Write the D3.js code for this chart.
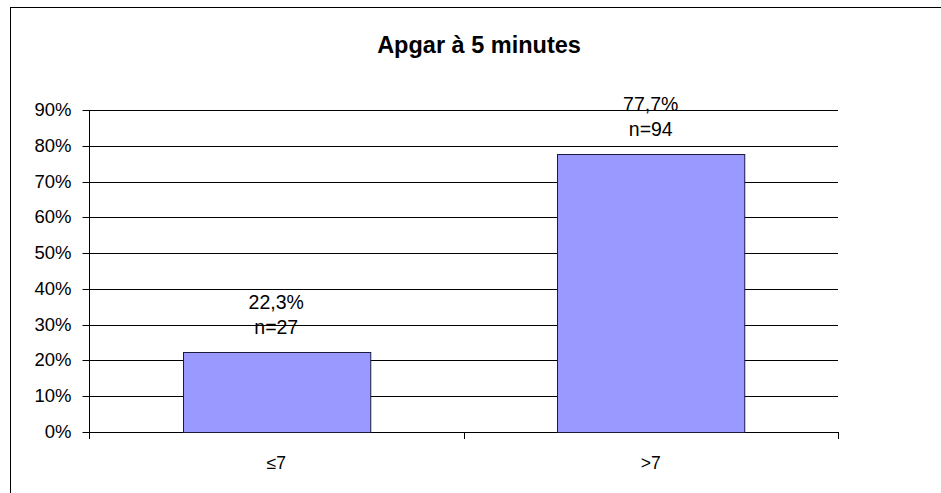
<!DOCTYPE html>
<html>
<head>
<meta charset="utf-8">
<script src="https://cdn.jsdelivr.net/npm/d3@7"></script>
<style>
  html, body { margin: 0; padding: 0; background: #fff; }
  svg { display: block; font-family: "Liberation Sans", Arial, sans-serif; }
</style>
</head>
<body>
<svg id="chart" width="941" height="493"></svg>
<script>
// Apgar score at 5 minutes: share of newborns per group
const categories = ["≤7", ">7"];
const percents = [22.3, 77.7];
const counts = [27, 94];
const yTicks = [0, 10, 20, 30, 40, 50, 60, 70, 80, 90];
const title = "Apgar à 5 minutes";

const svg = d3.select("#chart");
const W = 941, H = 493;

// outer frame (extends past the visible window on the right and bottom)
svg.append("rect")
  .attr("x", 10.5).attr("y", 7.5)
  .attr("width", W + 20).attr("height", H + 20)
  .attr("fill", "#fff").attr("stroke", "#000").attr("stroke-width", 1);

const plot = { left: 89, right: 838, top: 110, bottom: 432 };

const x = d3.scaleBand()
  .domain(categories)
  .range([plot.left, plot.right])
  .paddingInner(0.5).paddingOuter(0.25);

const y = d3.scaleLinear()
  .domain([0, 90])
  .range([plot.bottom, plot.top]);

// horizontal gridlines
svg.append("g")
  .selectAll("line")
  .data(yTicks)
  .join("line")
  .attr("x1", plot.left).attr("x2", plot.right)
  .attr("y1", d => Math.round(y(d)) + 0.5)
  .attr("y2", d => Math.round(y(d)) + 0.5)
  .attr("stroke", "#000").attr("stroke-width", 1);

// y axis
const yAxis = d3.axisLeft(y)
  .tickValues(yTicks)
  .tickFormat(d => d + "%")
  .tickSize(7)
  .tickPadding(11);
const gy = svg.append("g")
  .attr("transform", `translate(${plot.left + 0.5},0.5)`)
  .call(yAxis);
gy.select(".domain").attr("stroke", "#000").attr("d", `M0,${plot.top}V${plot.bottom}`);
gy.selectAll(".tick line").attr("stroke", "#000");
gy.selectAll(".tick text")
  .attr("font-size", 18.5).attr("fill", "#000")
  .attr("font-family", "Liberation Sans, Arial, sans-serif");
gy.selectAll(".tick").attr("transform", d => `translate(0,${Math.round(y(d))})`);

// x axis: ticks at category boundaries, labels centered under bars
const boundaries = [plot.left, (x(categories[0]) + x.bandwidth() + x(categories[1])) / 2, plot.right];
const gx = svg.append("g");
gx.append("line")
  .attr("x1", plot.left).attr("x2", plot.right)
  .attr("y1", plot.bottom + 0.5).attr("y2", plot.bottom + 0.5)
  .attr("stroke", "#000");
gx.selectAll("line.tk")
  .data(boundaries)
  .join("line")
  .attr("class", "tk")
  .attr("x1", d => Math.round(d) + 0.5).attr("x2", d => Math.round(d) + 0.5)
  .attr("y1", plot.bottom).attr("y2", plot.bottom + 7)
  .attr("stroke", "#000");
gx.selectAll("text")
  .data(categories)
  .join("text")
  .attr("x", d => x(d) + x.bandwidth() / 2)
  .attr("y", 469)
  .attr("text-anchor", "middle")
  .attr("font-size", 17.5)
  .attr("fill", "#000")
  .text(d => d);

// bars
const data = categories.map((c, i) => ({ c, p: percents[i], n: counts[i] }));
svg.append("g")
  .selectAll("rect")
  .data(data)
  .join("rect")
  .attr("x", d => Math.round(x(d.c)) + 0.5)
  .attr("y", d => Math.round(y(d.p)) + 0.5)
  .attr("width", x.bandwidth())
  .attr("height", d => Math.round(y(0)) - Math.round(y(d.p)))
  .attr("fill", "#9999FF")
  .attr("stroke", "#1a1a40")
  .attr("stroke-width", 1);

// value labels
const fmt = v => v.toFixed(1).replace(".", ",") + "%";
const lbl = svg.append("g").attr("font-size", 19.5).attr("fill", "#000").attr("text-anchor", "middle");
lbl.selectAll("text.pct")
  .data(data)
  .join("text")
  .attr("class", "pct")
  .attr("x", d => x(d.c) + x.bandwidth() / 2)
  .attr("y", d => y(d.p) - 43)
  .text(d => fmt(d.p));
lbl.selectAll("text.cnt")
  .data(data)
  .join("text")
  .attr("class", "cnt")
  .attr("x", d => x(d.c) + x.bandwidth() / 2)
  .attr("y", d => y(d.p) - 18)
  .text(d => "n=" + d.n);

// title
svg.append("text")
  .attr("x", 479).attr("y", 53)
  .attr("text-anchor", "middle")
  .attr("font-size", 23.5).attr("font-weight", "bold")
  .attr("fill", "#000")
  .text(title);
</script>
</body>
</html>
